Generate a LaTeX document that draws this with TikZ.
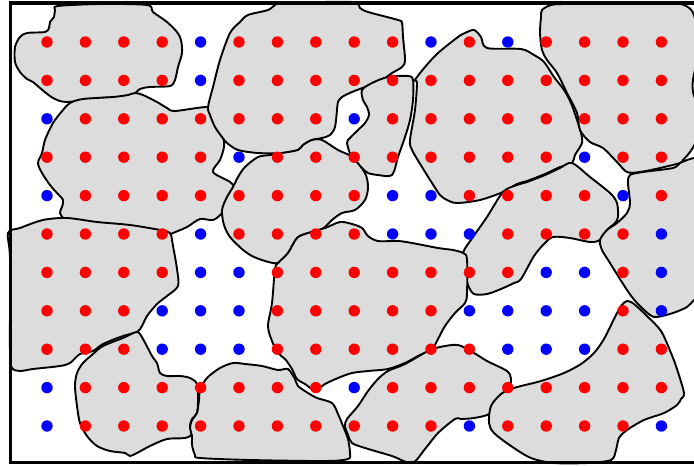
\documentclass[tikz,border=0pt]{standalone}
\begin{document}
\begin{tikzpicture}[x=1pt,y=-1pt]
\definecolor{blobgray}{RGB}{220,220,220}
\definecolor{dotred}{RGB}{255,0,0}
\definecolor{dotblue}{RGB}{0,0,255}
\tikzset{
  blob/.style={fill=blobgray,draw=black,line width=1.9pt,line join=round},
  dotR/.style={fill=dotred},
  dotB/.style={fill=dotblue},
  frame/.style={draw=black,line width=3.6pt}
}
\useasboundingbox (0,0) rectangle (694,466);
\clip (0,0) rectangle (694,466);
% blobs
\draw[blob] plot[smooth cycle,tension=0.5] coordinates {(58,6)(100,4)(147,5)(153,12)(167,22)(177,32)(181,40)(182,53)(178,67)(175,80)(170,86)(150,87)(140,89)(133,95)(125,97)(100,98)(67,102)(53,98)(40,88)(33,82)(27,79)(20,72)(15,62)(15,47)(20,37)(27,33)(45,32)(49,28)(50,22)(54,17)(55,10)};
\draw[blob] plot[smooth cycle,tension=0.5] coordinates {(70,103)(83,99)(113,97)(128,95)(135,93)(143,95)(157,102)(167,108)(175,111)(208,107)(210,115)(217,127)(223,137)(224,147)(220,160)(213,172)(230,182)(236,190)(230,200)(222,213)(213,220)(200,219)(187,227)(173,233)(163,237)(133,232)(100,227)(67,220)(60,213)(62,207)(63,200)(57,193)(50,185)(42,173)(38,163)(42,153)(45,140)(53,123)(63,110)};
\draw[blob] plot[smooth cycle,tension=0.5] coordinates {(208,107)(213,87)(220,60)(230,33)(240,22)(248,15)(268,10)(275,5)(285,3)(352,2)(360,8)(368,12)(398,20)(402,23)(403,37)(405,60)(402,67)(392,73)(382,80)(365,87)(352,92)(342,97)(338,102)(337,110)(335,127)(330,135)(322,138)(312,140)(303,145)(298,150)(282,153)(258,153)(238,150)(227,143)(222,137)(215,127)(210,115)};
\draw[blob] plot[smooth cycle,tension=0.5] coordinates {(362,90)(372,83)(388,77)(408,76)(413,80)(413,100)(410,120)(405,137)(398,157)(392,175)(378,175)(368,173)(362,168)(352,158)(347,143)(350,138)(358,130)(365,123)(369,115)(367,107)(363,100)};
\draw[blob] plot[smooth cycle,tension=0.5] coordinates {(415,80)(425,67)(438,53)(458,37)(465,33)(474,30)(481,37)(487,48)(521,49)(534,55)(544,62)(554,77)(564,90)(571,103)(577,120)(581,133)(582,143)(575,155)(572,163)(560,167)(545,174)(527,181)(517,184)(503,192)(480,200)(457,203)(447,200)(440,195)(432,183)(422,167)(412,150)(410,140)(415,110)(417,83)};
\draw[blob] plot[smooth cycle,tension=0.5] coordinates {(541,17)(542,10)(551,5)(564,4)(621,3)(634,2)(667,3)(684,5)(694,15)(698,50)(693,80)(693,92)(698,110)(696,140)(690,152)(683,160)(680,163)(660,168)(640,172)(627,172)(617,162)(603,148)(590,142)(580,130)(577,113)(567,93)(557,73)(547,60)(542,50)(540,33)};
\draw[blob] plot[smooth cycle,tension=0.5] coordinates {(258,157)(270,155)(282,153)(298,150)(303,145)(312,140)(322,140)(338,150)(352,157)(365,173)(368,187)(365,200)(355,210)(342,213)(332,220)(322,229)(305,234)(297,238)(288,253)(278,263)(265,261)(252,256)(242,249)(230,237)(224,225)(222,210)(227,197)(233,187)(238,177)(245,167)};
\draw[blob] plot[smooth cycle,tension=0.5] coordinates {(8,233)(20,228)(43,220)(67,218)(97,222)(130,225)(160,230)(170,233)(173,246)(177,269)(178,286)(167,296)(157,304)(147,316)(142,326)(137,332)(123,336)(103,344)(93,351)(80,354)(70,363)(60,366)(33,369)(20,371)(12,368)(10,353)(10,259)};
\draw[blob] plot[smooth cycle,tension=0.5] coordinates {(503,192)(517,185)(527,182)(545,175)(560,168)(572,163)(590,177)(610,193)(617,203)(618,217)(615,223)(607,230)(600,240)(590,242)(570,238)(553,237)(544,244)(534,256)(521,279)(514,283)(501,289)(487,294)(474,294)(468,285)(465,270)(463,253)(473,237)(487,217)};
\draw[blob] plot[smooth cycle,tension=0.5] coordinates {(630,175)(643,172)(673,168)(680,163)(694,158)(705,160)(705,290)(694,300)(687,307)(673,313)(657,317)(650,315)(637,303)(627,290)(610,263)(602,250)(600,240)(607,230)(617,223)(627,213)(630,203)(628,183)};
\draw[blob] plot[smooth cycle,tension=0.5] coordinates {(297,238)(308,233)(325,228)(340,222)(352,224)(362,228)(368,236)(378,241)(398,241)(412,243)(438,248)(453,250)(463,253)(467,259)(467,293)(465,303)(455,313)(445,326)(438,339)(432,349)(418,356)(405,363)(388,369)(368,371)(352,373)(338,378)(325,384)(318,389)(312,389)(305,384)(297,379)(292,369)(285,359)(278,353)(272,341)(268,326)(272,303)(275,269)(278,263)(288,253)};
\draw[blob] plot[smooth cycle,tension=0.5] coordinates {(137,332)(143,339)(152,356)(157,363)(160,373)(167,376)(180,376)(190,378)(197,384)(198,399)(197,413)(192,419)(190,426)(192,434)(185,438)(167,439)(150,446)(137,453)(130,456)(125,453)(110,451)(97,446)(87,436)(80,423)(77,406)(75,386)(77,373)(83,363)(93,354)(103,346)(123,338)};
\draw[blob] plot[smooth cycle,tension=0.5] coordinates {(207,378)(220,368)(233,363)(245,364)(262,366)(278,370)(288,369)(295,379)(298,386)(308,393)(317,398)(332,403)(338,414)(343,426)(348,439)(350,453)(348,459)(325,461)(250,460)(200,458)(195,455)(192,445)(192,436)(190,428)(192,420)(197,413)(199,400)(200,390)};
\draw[blob] plot[smooth cycle,tension=0.5] coordinates {(345,426)(347,419)(358,406)(368,391)(378,379)(388,371)(405,364)(428,351)(440,347)(458,345)(474,353)(487,361)(507,371)(511,379)(509,389)(501,396)(494,403)(489,414)(474,418)(461,419)(455,419)(438,433)(425,449)(412,463)(392,456)(365,448)(352,443)(348,435)};
\draw[blob] plot[smooth cycle,tension=0.5] coordinates {(491,406)(501,394)(511,389)(521,386)(541,381)(564,373)(581,364)(594,353)(604,339)(614,319)(621,306)(627,301)(634,304)(647,316)(661,331)(671,353)(677,369)(684,393)(681,399)(677,405)(664,413)(644,420)(627,430)(619,438)(616,450)(611,460)(587,463)(554,463)(531,458)(511,446)(494,433)(489,423)};
% dots
\foreach \row [count=\j from 0] in {
 {R,R,R,R,B,R,R,R,R,R,B,R,B,R,R,R,R},
 {R,R,R,R,B,R,R,R,R,R,R,R,R,R,R,R,R},
 {B,R,R,R,R,R,R,R,B,R,R,R,R,R,R,R,R},
 {R,R,R,R,R,B,R,R,R,R,R,R,R,R,B,R,R},
 {B,R,R,R,R,R,R,R,R,B,B,R,R,R,R,B,R},
 {R,R,R,R,B,R,R,R,R,B,B,B,R,R,R,R,B},
 {R,R,R,R,B,B,R,R,R,R,R,R,R,B,B,R,B},
 {R,R,R,B,B,B,R,R,R,R,R,B,B,B,B,R,B},
 {R,R,R,B,B,B,R,R,R,R,R,R,B,B,B,R,R},
 {B,R,R,R,R,R,R,R,B,R,R,R,R,R,R,R,R},
 {B,R,R,R,R,R,R,R,R,R,R,B,R,R,R,R,B}}{
  \foreach \c [count=\i from 0] in \row {
    \fill[dot\c] ({47+38.4*\i},{42+38.4*\j}) circle (5.7);
  }
}
% frame
\draw[frame] (10.5,3) rectangle (720,462.5);
\end{tikzpicture}
\end{document}
